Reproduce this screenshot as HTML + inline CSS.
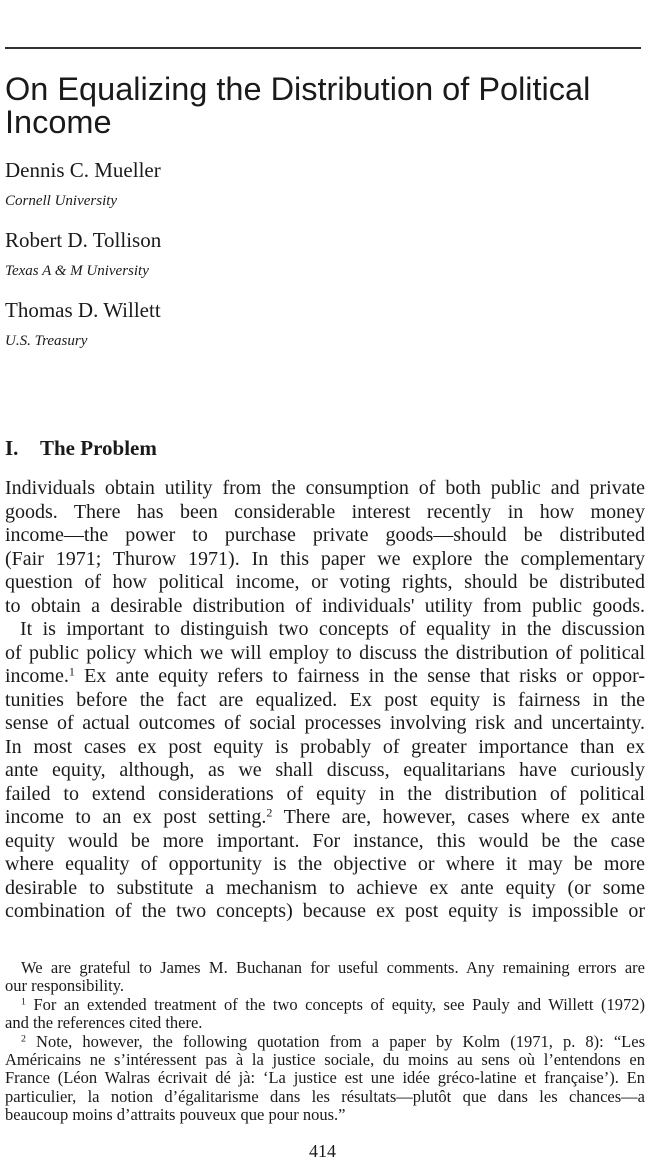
<!DOCTYPE html>
<html><head><meta charset="utf-8">
<style>
body{margin:0;width:650px;height:1162px;background:#fff;position:relative;overflow:hidden;color:#1a1a1a;font-family:"Liberation Serif",serif}
.a{position:absolute;line-height:1;white-space:nowrap}
.l{position:absolute;left:5px;width:640px;line-height:1;font-size:20px;text-align:justify;text-align-last:justify}
.f{position:absolute;left:5px;width:640px;line-height:1;font-size:16.5px;text-align:justify;text-align-last:justify}
.f.e,.l.e{text-align-last:left}
sup{font-size:0.6em;line-height:0;vertical-align:0.55em}
</style></head><body>
<div style="position:absolute;left:5px;top:47px;width:636px;height:1.5px;background:#333"></div>
<div class="a" style="left:5px;top:73px;font-family:'Liberation Sans',sans-serif;font-size:32.5px;line-height:33px">On Equalizing the Distribution of Political<br>Income</div>
<div class="a" style="left:5px;top:160px;font-size:21px">Dennis C. Mueller</div>
<div class="a" style="left:5px;top:194px;font-size:15px;font-style:italic">Cornell University</div>
<div class="a" style="left:5px;top:230px;font-size:21px">Robert D. Tollison</div>
<div class="a" style="left:5px;top:264px;font-size:15px;font-style:italic">Texas A &amp; M University</div>
<div class="a" style="left:5px;top:300px;font-size:21px">Thomas D. Willett</div>
<div class="a" style="left:5px;top:334px;font-size:15px;font-style:italic">U.S. Treasury</div>
<div class="a" style="left:5px;top:438px;font-size:21px;font-weight:bold">I.</div>
<div class="a" style="left:40px;top:438px;font-size:21px;font-weight:bold">The Problem</div>

<div>
<div class="l" style="top:478px">Individuals obtain utility from the consumption of both public and private</div>
<div class="l" style="top:502px">goods. There has been considerable interest recently in how money</div>
<div class="l" style="top:525px">income—the power to purchase private goods—should be distributed</div>
<div class="l" style="top:549px">(Fair 1971; Thurow 1971). In this paper we explore the complementary</div>
<div class="l" style="top:572px">question of how political income, or voting rights, should be distributed</div>
<div class="l" style="top:596px">to obtain a desirable distribution of individuals' utility from public goods.</div>
<div class="l" style="top:619px;left:20px;width:625px">It is important to distinguish two concepts of equality in the discussion</div>
<div class="l" style="top:643px">of public policy which we will employ to discuss the distribution of political</div>
<div class="l" style="top:666px">income.<sup>1</sup> Ex ante equity refers to fairness in the sense that risks or oppor-</div>
<div class="l" style="top:690px">tunities before the fact are equalized. Ex post equity is fairness in the</div>
<div class="l" style="top:713px">sense of actual outcomes of social processes involving risk and uncertainty.</div>
<div class="l" style="top:737px">In most cases ex post equity is probably of greater importance than ex</div>
<div class="l" style="top:760px">ante equity, although, as we shall discuss, equalitarians have curiously</div>
<div class="l" style="top:784px">failed to extend considerations of equity in the distribution of political</div>
<div class="l" style="top:807px">income to an ex post setting.<sup>2</sup> There are, however, cases where ex ante</div>
<div class="l" style="top:831px">equity would be more important. For instance, this would be the case</div>
<div class="l" style="top:854px">where equality of opportunity is the objective or where it may be more</div>
<div class="l" style="top:878px">desirable to substitute a mechanism to achieve ex ante equity (or some</div>
<div class="l" style="top:901px">combination of the two concepts) because ex post equity is impossible or</div>
</div>

<div>
<div class="f" style="top:960px;left:21px;width:624px">We are grateful to James M. Buchanan for useful comments. Any remaining errors are</div>
<div class="f e" style="top:978px">our responsibility.</div>
<div class="f" style="top:997px;left:21px;width:624px"><sup>1</sup> For an extended treatment of the two concepts of equity, see Pauly and Willett (1972)</div>
<div class="f e" style="top:1015px">and the references cited there.</div>
<div class="f" style="top:1034px;left:21px;width:624px"><sup>2</sup> Note, however, the following quotation from a paper by Kolm (1971, p. 8): “Les</div>
<div class="f" style="top:1052px">Américains ne s’intéressent pas à la justice sociale, du moins au sens où l’entendons en</div>
<div class="f" style="top:1070px">France (Léon Walras écrivait dé jà: ‘La justice est une idée gréco-latine et française’). En</div>
<div class="f" style="top:1089px">particulier, la notion d’égalitarisme dans les résultats—plutôt que dans les chances—a</div>
<div class="f e" style="top:1107px">beaucoup moins d’attraits pouveux que pour nous.”</div>
</div>
<div class="a" style="left:309px;top:1142px;font-size:18px">414</div>
</body></html>
